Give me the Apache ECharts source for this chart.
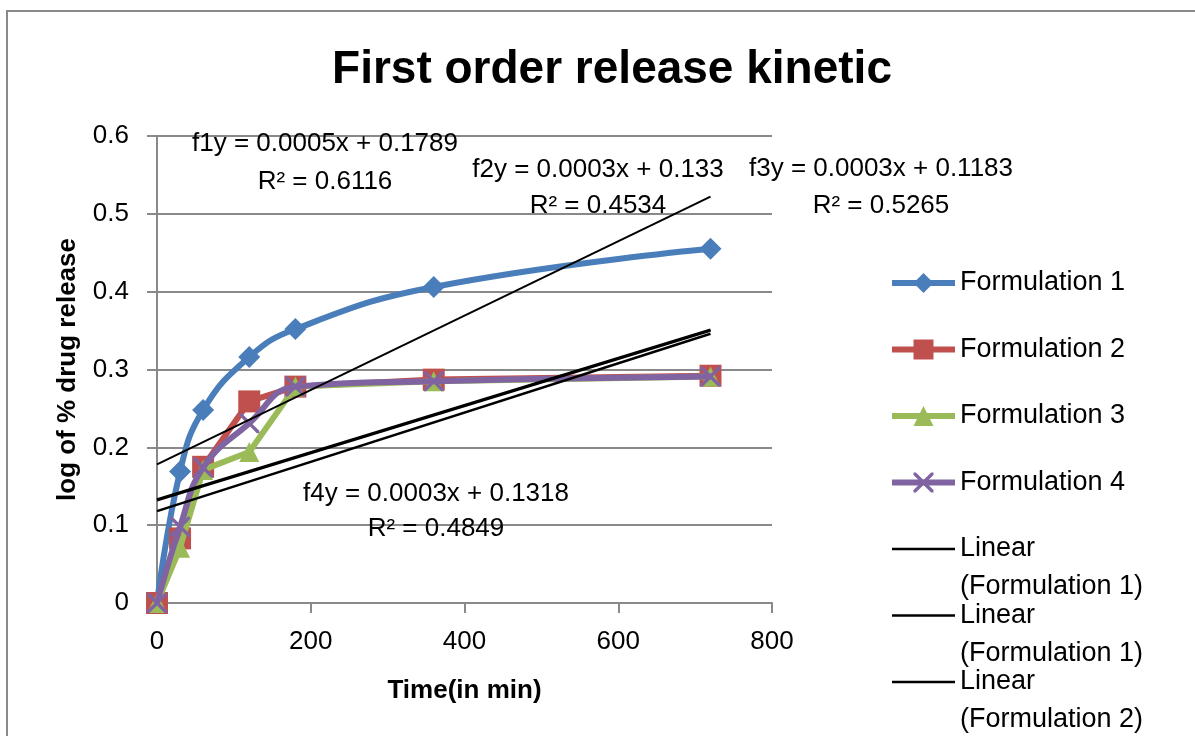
<!DOCTYPE html>
<html>
<head>
<meta charset="utf-8">
<script src="https://cdn.jsdelivr.net/npm/echarts@6/dist/echarts.min.js"></script>
<style>
html,body{margin:0;padding:0;background:#fff;}
#chart{width:1195px;height:736px;}
</style>
</head>
<body>
<div id="chart"></div>
<script>
// ---- data ----
const timeMin = [0, 30, 60, 120, 180, 360, 720];
const form1 = [0, 0.169, 0.248, 0.316, 0.352, 0.406, 0.455];
const form2 = [0, 0.083, 0.175, 0.259, 0.278, 0.287, 0.292];
const form3 = [0, 0.071, 0.171, 0.194, 0.278, 0.285, 0.291];
const form4 = [0, 0.098, 0.174, 0.231, 0.278, 0.285, 0.291];
const trendX = [0, 720];
const trend1 = [0.178, 0.522];
const trend2 = [0.133, 0.351];
const trend3 = [0.118, 0.346];
const trend4 = [0.132, 0.350];
const xTicks = [0, 200, 400, 600, 800];
const yTicks = [0, 0.1, 0.2, 0.3, 0.4, 0.5, 0.6];
const seriesNames = ['Formulation 1', 'Formulation 2', 'Formulation 3', 'Formulation 4'];
const trendNames = ['Linear (Formulation 1)', 'Linear (Formulation 1)\u200b', 'Linear (Formulation 2)', 'Linear (Formulation 3)'];
const equations = [
  'f1y = 0.0005x + 0.1789\nR\u00b2 = 0.6116',
  'f2y = 0.0003x + 0.133\nR\u00b2 = 0.4534',
  'f3y = 0.0003x + 0.1183\nR\u00b2 = 0.5265',
  'f4y = 0.0003x + 0.1318\nR\u00b2 = 0.4849'
];
const titleText = 'First order release kinetic';
const xName = 'Time(in min)';
const yName = 'log of % drug release';

// ---- styles ----
const FONT = '"Liberation Sans", Arial, sans-serif';
const colors = ['#4A7EBB', '#C0504D', '#9BBB59', '#8064A2'];
const xPath = 'path://M0,0 L1.2,0 L5,3.8 L8.8,0 L10,0 L10,1.2 L6.2,5 L10,8.8 L10,10 L8.8,10 L5,6.2 L1.2,10 L0,10 L0,8.8 L3.8,5 L0,1.2 Z';
const linePath = 'path://M0,0 L63,0 L63,2.5 L0,2.5 Z';
const symbols = ['diamond', 'rect', 'triangle', xPath];
const symSizes = [22, 22, 20, 20];
const smoothFlags = [0.45, false, false, 0.45];
const forms = [form1, form2, form3, form4];
const trends = [trend1, trend2, trend3, trend4];
const trendWidths = [2, 2.5, 2.5, 2.5];

const pair = (xs, ys) => xs.map((x, i) => [x, ys[i]]);

const series = [];
forms.forEach((d, i) => {
  series.push({
    name: seriesNames[i],
    type: 'line',
    data: pair(timeMin, d),
    smooth: smoothFlags[i],
    symbol: symbols[i],
    symbolSize: symSizes[i],
    showSymbol: true,
    clip: false,
    lineStyle: { color: colors[i], width: 6 },
    itemStyle: { color: colors[i], borderWidth: 0 },
    emphasis: { disabled: true },
    z: 2 + i
  });
});
trends.forEach((d, i) => {
  series.push({
    name: trendNames[i],
    type: 'line',
    data: pair(trendX, d),
    symbol: 'none',
    lineStyle: { color: '#000', width: trendWidths[i] },
    itemStyle: { color: '#000' },
    emphasis: { disabled: true },
    z: 10
  });
});

const legendData = seriesNames.map(n => ({ name: n }))
  .concat(trendNames.slice(0, 3).map(n => ({ name: n, icon: linePath })));

const chart = echarts.init(document.getElementById('chart'), null, { renderer: 'canvas' });
chart.setOption({
  animation: false,
  backgroundColor: '#fff',
  title: {
    text: titleText,
    left: 607,
    textAlign: 'center',
    top: 42,
    textStyle: { fontFamily: FONT, fontWeight: 'bold', fontSize: 46, color: '#000' }
  },
  grid: { left: 157, right: 423, top: 136, bottom: 133, containLabel: false },
  xAxis: {
    type: 'value',
    min: xTicks[0], max: xTicks[xTicks.length - 1], interval: xTicks[1] - xTicks[0],
    name: xName, nameLocation: 'middle', nameGap: 75,
    nameTextStyle: { fontFamily: FONT, fontWeight: 'bold', fontSize: 26, color: '#000' },
    axisLine: { show: true, lineStyle: { color: '#898989', width: 2 } },
    axisTick: { show: true, length: 10, inside: false, lineStyle: { color: '#898989', width: 2 } },
    axisLabel: { margin: 26, fontFamily: FONT, fontSize: 26, color: '#000' },
    splitLine: { show: false }
  },
  yAxis: {
    type: 'value',
    min: yTicks[0], max: yTicks[yTicks.length - 1], interval: yTicks[1] - yTicks[0],
    name: yName, nameLocation: 'middle', nameGap: 76, nameRotate: 90,
    nameTextStyle: { fontFamily: FONT, fontWeight: 'bold', fontSize: 26, color: '#000' },
    axisLine: { show: true, lineStyle: { color: '#898989', width: 2 } },
    axisTick: { show: true, length: 10, inside: false, lineStyle: { color: '#898989', width: 2 } },
    axisLabel: { margin: 28, fontFamily: FONT, fontSize: 26, color: '#000',
      formatter: v => (Math.round(v * 10) / 10).toString() },
    splitLine: { show: true, lineStyle: { color: '#898989', width: 2 } }
  },
  legend: {
    orient: 'vertical',
    left: 889,
    top: 226,
    height: 1000,
    padding: 0,
    itemWidth: 63,
    itemHeight: 25,
    itemGap: -47.5,
    data: legendData,
    selectedMode: false,
    lineStyle: { width: 6 },
    textStyle: { fontFamily: FONT, fontSize: 27, color: '#000', lineHeight: 38 },
    formatter: function (name) {
      const n = name.replace(/\u200b/g, '');
      if (n.indexOf('Linear ') === 0) return '\nLinear\n' + n.slice(7);
      return '\n' + n + '\n ';
    }
  },
  graphic: [
    { type: 'rect', silent: true, shape: { x: 7, y: 11, width: 1300, height: 900 },
      style: { fill: 'none', stroke: '#898989', lineWidth: 2 }, z: 100 },
    { type: 'text', x: 325, y: 163, style: { text: equations[0], fill: '#000', fontFamily: FONT, fontSize: 26, lineHeight: 38, textAlign: 'center', textVerticalAlign: 'middle' }, z: 100 },
    { type: 'text', x: 598, y: 188, style: { text: equations[1], fill: '#000', fontFamily: FONT, fontSize: 26, lineHeight: 36, textAlign: 'center', textVerticalAlign: 'middle' }, z: 100 },
    { type: 'text', x: 881, y: 187, style: { text: equations[2], fill: '#000', fontFamily: FONT, fontSize: 26, lineHeight: 37, textAlign: 'center', textVerticalAlign: 'middle' }, z: 100 },
    { type: 'text', x: 436, y: 511, style: { text: equations[3], fill: '#000', fontFamily: FONT, fontSize: 26, lineHeight: 35, textAlign: 'center', textVerticalAlign: 'middle' }, z: 100 }
  ],
  series: series
});
</script>
</body>
</html>
